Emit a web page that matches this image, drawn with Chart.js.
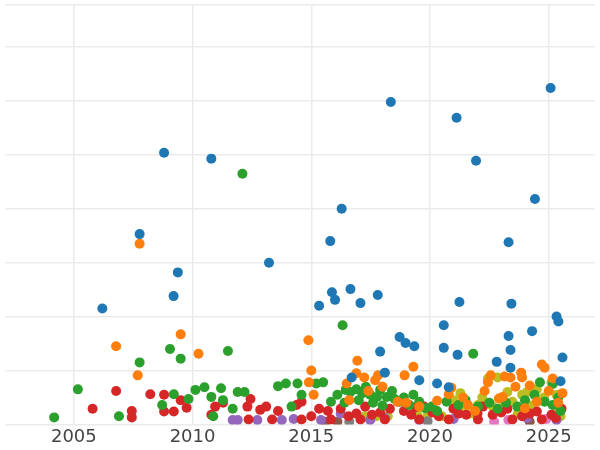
<!DOCTYPE html>
<html>
<head>
<meta charset="utf-8">
<script src="https://cdn.jsdelivr.net/npm/chart.js@4"></script>
<style>
  html, body { margin: 0; padding: 0; background: #fff; }
  #wrap { width: 600px; height: 450px; }
</style>
</head>
<body>
<div id="wrap"><canvas id="myChart"></canvas></div>
<script>
// [year, value] pairs per group
var blueData = [[2006.2,2.15],[2007.77,3.53],[2008.8,5.04],[2009.2,2.38],[2009.38,2.82],[2010.79,4.93],[2013.22,3.0],[2015.33,2.2],[2015.8,3.4],[2015.87,2.45],[2016.0,2.31],[2016.28,4.0],[2016.65,2.51],[2016.7,0.87],[2017.07,2.25],[2017.8,2.4],[2017.9,1.35],[2018.1,0.96],[2018.35,5.98],[2018.72,1.62],[2018.97,1.51],[2019.34,1.45],[2019.55,0.82],[2020.3,0.76],[2020.58,1.84],[2020.58,1.42],[2020.79,0.69],[2021.12,5.69],[2021.16,1.29],[2021.24,2.27],[2021.94,4.89],[2022.81,1.16],[2023.31,3.38],[2023.31,1.64],[2023.39,1.38],[2023.43,2.24],[2023.39,1.05],[2024.3,1.73],[2024.42,4.18],[2025.08,6.24],[2025.33,2.0],[2025.41,1.91],[2025.58,1.24],[2025.5,0.8]];
var orangeData = [[2006.78,1.45],[2007.77,3.35],[2007.69,0.91],[2009.5,1.67],[2010.25,1.31],[2014.88,1.56],[2015.0,1.0],[2016.49,0.76],[2016.94,1.18],[2016.9,0.95],[2017.23,0.87],[2017.69,0.82],[2017.81,0.91],[2018.93,0.91],[2019.3,1.07],[2020.3,0.44],[2020.79,0.56],[2022.44,0.78],[2022.56,0.91],[2023.14,0.89],[2023.39,0.87],[2023.84,0.96],[2023.88,0.87],[2024.71,1.11],[2024.83,1.05],[2025.17,0.85],[2025.58,0.58],[2019.55,0.33],[2018.64,0.42],[2021.6,0.36],[2023.06,0.51],[2024.5,0.42],[2014.9,0.78],[2015.1,0.55],[2016.6,0.45],[2017.4,0.62],[2018.0,0.7],[2019.0,0.4],[2020.9,0.68],[2021.4,0.5],[2022.3,0.62],[2022.9,0.48],[2023.6,0.7],[2024.2,0.72],[2025.0,0.62],[2025.4,0.4],[2021.9,0.25],[2024.0,0.3]];
var greenData = [[2004.17,0.13],[2005.17,0.65],[2006.9,0.15],[2007.77,1.15],[2009.05,1.4],[2009.5,1.22],[2011.49,1.36],[2012.1,4.65],[2016.32,1.84],[2021.82,1.31],[2025.17,0.75],[2008.72,0.36],[2009.21,0.56],[2009.83,0.47],[2010.12,0.64],[2010.5,0.69],[2010.79,0.51],[2011.2,0.67],[2011.28,0.45],[2011.9,0.6],[2012.19,0.6],[2013.6,0.71],[2013.93,0.76],[2014.42,0.76],[2014.59,0.55],[2015.21,0.76],[2015.5,0.78],[2016.45,0.64],[2016.65,0.6],[2016.9,0.65],[2017.15,0.58],[2017.48,0.55],[2017.77,0.51],[2017.9,0.64],[2018.18,0.51],[2018.51,0.47],[2018.72,0.42],[2019.13,0.36],[2019.55,0.42],[2020.08,0.33],[2020.7,0.42],[2021.2,0.36],[2022.02,0.33],[2022.85,0.29],[2023.68,0.33],[2024.63,0.78],[2024.83,0.42],[2025.17,0.36],[2010.87,0.15],[2011.69,0.29],[2014.17,0.33],[2015.83,0.42],[2016.1,0.55],[2016.4,0.4],[2017.0,0.45],[2017.3,0.7],[2017.6,0.4],[2018.0,0.35],[2018.4,0.62],[2018.9,0.5],[2019.3,0.55],[2019.8,0.3],[2020.3,0.25],[2021.5,0.45],[2022.5,0.4],[2023.2,0.4],[2024.0,0.45],[2024.4,0.55],[2025.4,0.5],[2025.5,0.25]];
var redData = [[2005.79,0.29],[2006.78,0.62],[2007.44,0.25],[2007.44,0.13],[2008.22,0.56],[2008.8,0.55],[2008.8,0.24],[2009.21,0.24],[2009.5,0.45],[2009.75,0.31],[2010.79,0.18],[2010.95,0.33],[2011.28,0.4],[2012.31,0.33],[2012.44,0.47],[2012.85,0.27],[2013.1,0.33],[2013.6,0.25],[2014.38,0.36],[2014.59,0.42],[2015.33,0.29],[2015.0,0.15],[2016.24,0.29],[2016.57,0.15],[2017.27,0.33],[2017.56,0.18],[2018.31,0.29],[2018.64,0.42],[2019.21,0.18],[2019.75,0.33],[2020.37,0.15],[2020.99,0.29],[2021.53,0.18],[2022.23,0.33],[2022.64,0.18],[2023.26,0.29],[2023.88,0.15],[2024.5,0.24],[2025.12,0.18],[2025.54,0.29],[2012.36,0.09],[2013.35,0.09],[2014.59,0.09],[2015.83,0.09],[2017.07,0.09],[2018.1,0.09],[2019.55,0.09],[2020.79,0.09],[2022.02,0.09],[2023.47,0.09],[2024.71,0.09],[2015.7,0.25],[2016.9,0.2],[2017.9,0.22],[2018.9,0.25],[2019.4,0.32],[2020.1,0.22],[2021.2,0.2],[2022.0,0.2],[2023.0,0.22],[2024.2,0.2],[2025.3,0.12]];
var purpleData = [[2011.69,0.08],[2011.9,0.08],[2012.73,0.08],[2013.76,0.08],[2014.26,0.1],[2015.41,0.08],[2016.24,0.2],[2017.48,0.08],[2018.1,0.12],[2019.55,0.08],[2020.99,0.1],[2024.09,0.12],[2025.33,0.08]];
var brownData = [[2015.6,0.05],[2016.1,0.05],[2024.2,0.05]];
var pinkData = [[2022.7,0.05],[2023.3,0.08],[2024.9,0.1]];
var grayData = [[2016.6,0.05],[2019.9,0.06]];
var oliveData = [[2017.27,0.15],[2017.73,0.15],[2018.22,0.15],[2019.46,0.18],[2019.88,0.15],[2020.99,0.29],[2021.28,0.58],[2021.4,0.33],[2022.44,0.85],[2022.85,0.87],[2023.26,0.6],[2023.47,0.42],[2023.88,0.55],[2024.09,0.6],[2024.5,0.65],[2025.12,0.78],[2025.33,0.55],[2022.02,0.36],[2022.64,0.33],[2020.5,0.15],[2021.0,0.45],[2021.8,0.2],[2022.2,0.5],[2023.0,0.3],[2023.7,0.2],[2024.3,0.35],[2024.8,0.5],[2025.4,0.3],[2025.5,0.15]];
var xTicks = [2005, 2010, 2015, 2020, 2025];

function pts(a) { return a.map(function (p) { return { x: p[0], y: p[1] }; }); }
function ds(d, c) {
    return { data: pts(d), backgroundColor: c, borderColor: c, pointRadius: 5, pointHoverRadius: 5, borderWidth: 0 };
}

var ctx = document.getElementById('myChart').getContext('2d');
var chart = new Chart(ctx, {
    type: 'scatter',
    data: {
        datasets: [
            ds(blueData, '#1f77b4'),
            ds(orangeData, '#ff7f0e'),
            ds(greenData, '#2ca02c'),
            ds(redData, '#d62728'),
            ds(purpleData, '#9467bd'),
            ds(brownData, '#8c564b'),
            ds(pinkData, '#e377c2'),
            ds(grayData, '#7f7f7f'),
            ds(oliveData, '#bcbd22')
        ]
    },
    options: {
        animation: false,
        responsive: true,
        maintainAspectRatio: false,
        layout: { padding: 0 },
        plugins: { legend: { display: false }, tooltip: { enabled: false } },
        scales: {
            x: {
                type: 'linear',
                min: 2002.1,
                max: 2026.95,
                afterBuildTicks: function (axis) { axis.ticks = xTicks.map(function (v) { return { value: v }; }); },
                ticks: {
                    color: '#444',
                    font: { family: 'DejaVu Sans', size: 18 },
                    padding: 2,
                    maxRotation: 0,
                    callback: function (v) { return String(v); }
                },
                grid: { color: '#ebebeb', lineWidth: 1.5, drawTicks: false },
                border: { display: false }
            },
            y: {
                min: 0,
                max: 7.78,
                ticks: { display: false, stepSize: 1 },
                grid: { color: '#ebebeb', lineWidth: 1.5, drawTicks: false },
                border: { display: false }
            }
        }
    }
});
</script>
</body>
</html>
